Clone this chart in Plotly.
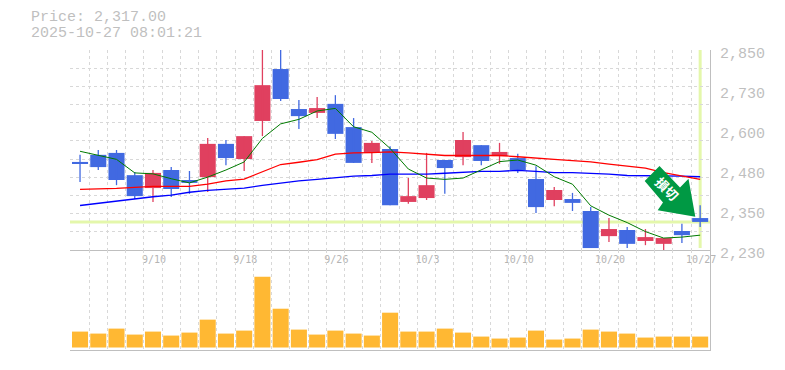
import plotly.graph_objects as go

W, H = 785, 370
dates = ["9/2","9/3","9/4","9/5","9/8","9/9","9/10","9/11","9/12","9/16","9/17","9/18","9/19","9/22","9/24",
         "9/25","9/26","9/29","9/30","10/1","10/2","10/3","10/6","10/7","10/8","10/9","10/10","10/14","10/15","10/16",
         "10/17","10/20","10/21","10/23","10/27"]
opens  = [2503,2525,2531,2462,2422,2478,2447,2456,2559,2512,2630,2791,2667,2655,2683,2611,2531,2543,2379,2391,2509,2518,2555,2521,2515,2450,2385,2388,2351,2273,2292,2258,2249,2289,2329]
closes = [2497,2487,2447,2397,2469,2419,2438,2559,2515,2583,2741,2698,2645,2670,2590,2500,2562,2369,2397,2431,2484,2571,2506,2534,2478,2363,2416,2376,2236,2295,2249,2270,2267,2276,2317]
highs  = [2525,2540,2540,2472,2478,2487,2475,2577,2571,2583,2890,2880,2695,2704,2710,2639,2568,2552,2453,2531,2509,2596,2555,2562,2528,2490,2425,2407,2363,2329,2301,2295,2267,2311,2369]
lows   = [2441,2478,2431,2388,2379,2394,2404,2410,2493,2475,2583,2692,2605,2639,2574,2500,2500,2369,2373,2385,2404,2493,2493,2497,2469,2345,2366,2351,2236,2255,2236,2245,2228,2252,2301]
ma_short = [2536,2524,2511,2469,2466,2451,2438,2456,2478,2503,2576,2621,2635,2661,2669,2612,2595,2545,2481,2453,2449,2453,2478,2504,2509,2493,2457,2434,2367,2338,2315,2287,2267,2270,2276]
ma_mid   = [2418,2419,2421,2424,2427,2427,2427,2434,2444,2450,2472,2495,2502,2510,2527,2531,2532,2534,2531,2527,2523,2523,2523,2523,2519,2514,2511,2507,2503,2496,2490,2484,2470,2459,2449]
ma_long  = [2368,2375,2381,2388,2395,2400,2409,2415,2419,2422,2430,2438,2444,2449,2454,2459,2461,2465,2465,2465,2468,2471,2474,2474,2477,2474,2470,2470,2468,2465,2461,2461,2461,2459,2457]
volumes  = [48,42,57,39,48,36,45,84,42,51,213,117,54,39,51,42,36,105,48,48,57,45,33,27,30,51,24,27,54,48,42,30,33,33,33]
price_ticks = [2230,2354,2478,2602,2726,2850]
price_labels = ["2,230","2,350","2,480","2,600","2,730","2,850"]
date_tick_idx = [4,9,14,19,24,29,34]
date_tick_labels = ["9/10","9/18","9/26","10/3","10/10","10/20","10/27"]
last_price = 2317

MONO = "Liberation Mono"
GREY = "#bfbfbf"
GRID = "#d8d8d8"
RED, BLUE = "#e0405f", "#4169e1"
L, T, PW, PH = 70, 50, 640, 300
xs = list(range(len(dates)))
px = lambda x: (x - L) / PW
py = lambda y: 1 - (y - T) / PH

fig = go.Figure()
for col, pick in ((RED, lambda o, c: c >= o), (BLUE, lambda o, c: c < o)):
    idx = [i for i in xs if pick(opens[i], closes[i])]
    wx, wy = [], []
    for i in idx:
        wx += [i, i, None]
        wy += [lows[i], highs[i], None]
    fig.add_trace(go.Scatter(x=wx, y=wy, mode="lines", line=dict(color=col, width=1.3), showlegend=False, xaxis="x", yaxis="y"))
    fig.add_trace(go.Bar(x=idx, y=[abs(closes[i] - opens[i]) for i in idx], base=[min(closes[i], opens[i]) for i in idx],
                         width=0.88, marker=dict(color=col, line_width=0), showlegend=False, xaxis="x", yaxis="y"))
for vals, col, w in ((ma_long, "#0000ff", 1.3), (ma_mid, "#ff0000", 1.3), (ma_short, "#007a00", 1.0)):
    fig.add_trace(go.Scatter(x=xs, y=vals, mode="lines", line=dict(color=col, width=w), showlegend=False, xaxis="x", yaxis="y"))
fig.add_trace(go.Bar(x=xs, y=volumes, marker=dict(color="#ffb833", line_width=0), width=0.88, showlegend=False, xaxis="x2", yaxis="y2"))

DASH = "3px,3px"
minor_grid = dict(showgrid=True, gridcolor=GRID, griddash=DASH, gridwidth=1, tick0=-0.5, dtick=1, ticklen=0)
xr = [-0.55, 34.54]
arrow = [(659.5, 166), (644.7, 181), (663, 202.5), (657.7, 210.3), (695.3, 216.7), (688.5, 178.7), (680, 187.5)]
arrow_path = "M " + " L ".join(f"{px(x):.5f},{py(y):.5f}" for x, y in arrow) + " Z"
fig.update_layout(
    width=W, height=H, paper_bgcolor="white", plot_bgcolor="white", dragmode=False, barmode="overlay",
    margin=dict(l=L, r=W - L - PW, t=T, b=H - T - PH, pad=0, autoexpand=False),
    xaxis=dict(domain=[0, 1], range=xr, anchor="y", tickmode="array", tickvals=date_tick_idx, ticktext=date_tick_labels, automargin=False,
               showgrid=False, zeroline=False, showline=True, linecolor=GREY, linewidth=1, ticks="",
               tickfont=dict(family="DejaVu Sans Mono", size=10, color="#b4b4b4"), ticklabelstandoff=0, ticklabelshift=1, minor=minor_grid),
    xaxis2=dict(domain=[0, 1], range=xr, anchor="y2", showticklabels=False, showgrid=False, zeroline=False, automargin=False,
                showline=True, linecolor=GREY, linewidth=1, ticks="", tickmode="array", tickvals=[], minor=minor_grid),
    yaxis=dict(domain=[1/3, 1], range=[2230, 2850], side="right", anchor="x", tickmode="array", tickvals=price_ticks, ticktext=price_labels, automargin=False,
               showgrid=False, zeroline=False, showline=True, linecolor=GREY, linewidth=1, ticks="",
               tickfont=dict(family=MONO, size=15, color=GREY), ticklabelstandoff=6, ticklabelshift=3,
               minor=dict(showgrid=True, gridcolor=GRID, griddash=DASH, gridwidth=1, tick0=2230, dtick=620/11, ticklen=0)),
    yaxis2=dict(domain=[0, 1/3], range=[-7.5, 294], side="right", anchor="x2", showticklabels=False, showgrid=False, zeroline=False, automargin=False,
                showline=True, linecolor=GREY, linewidth=1, ticks=""),
    shapes=[
        dict(type="line", xref="x domain", yref="y", x0=0, x1=1, y0=last_price, y1=last_price, line=dict(color="#e4f7ab", width=3), layer="below"),
        dict(type="line", xref="x", yref="y domain", x0=34, x1=34, y0=0.01, y1=1, line=dict(color="#e4f7ab", width=3), layer="below"),
        dict(type="path", xref="paper", yref="paper", path=arrow_path, fillcolor="#009944", line=dict(width=0), layer="above"),
    ],
    annotations=[
        dict(text="Price: 2,317.00", x=px(29), y=py(18), xref="paper", yref="paper", xanchor="left", yanchor="middle", showarrow=False, font=dict(family=MONO, size=15, color=GREY)),
        dict(text="2025-10-27 08:01:21", x=px(29), y=py(33), xref="paper", yref="paper", xanchor="left", yanchor="middle", showarrow=False, font=dict(family=MONO, size=15, color=GREY)),
        dict(text="<b>損切</b>", x=px(667), y=py(188.7), xref="paper", yref="paper", xanchor="center", yanchor="middle", textangle=45, showarrow=False, font=dict(family="Noto Sans CJK JP", size=13, color="white")),
    ],
)
fig.write_html("out.html", config=dict(displayModeBar=False), post_script="document.body.style.margin='0';document.body.style.overflow='hidden';")
